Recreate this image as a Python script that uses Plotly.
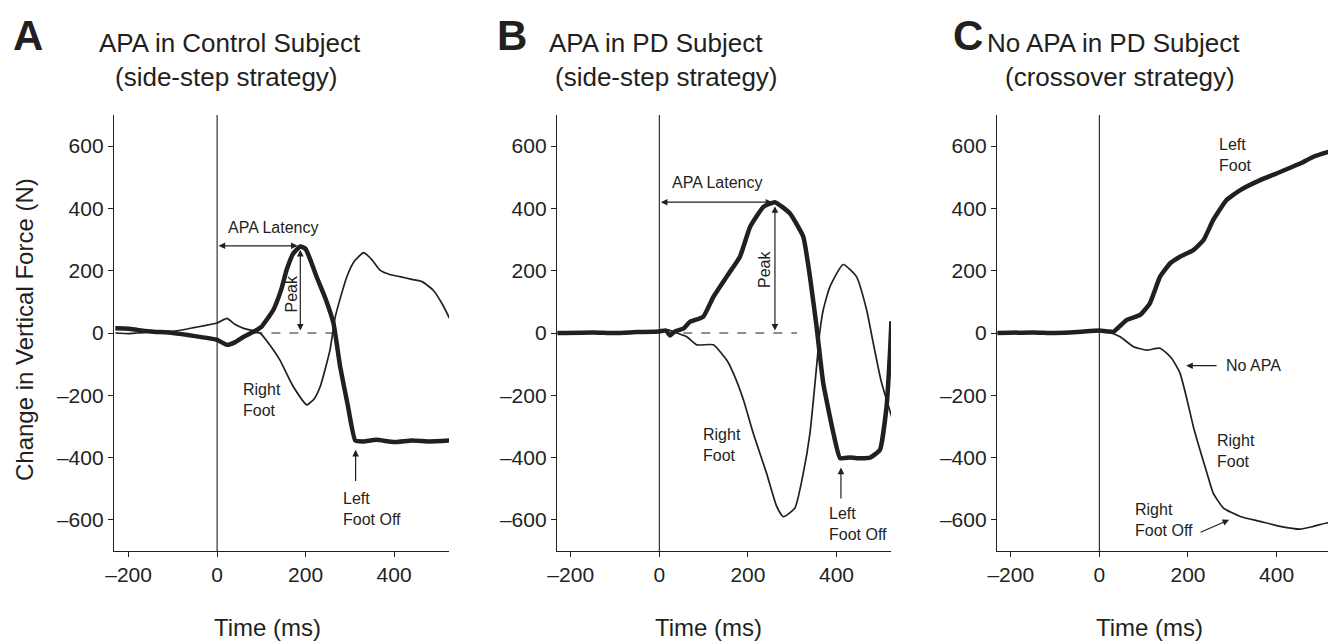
import plotly.graph_objects as go
from plotly.subplots import make_subplots

# ---- data (time in ms, force in N) ----
# Panel A: control subject, side-step
a_left_t = [-230, -200, -180, -150, -100, -50, 0, 22, 40, 60, 82, 100, 127, 145, 157, 172, 188, 200,
            212, 225, 245, 263, 278, 295, 312, 330, 360, 400, 440, 480, 527]
a_left_f = [15, 14, 10, 5, 0, -10, -22, -38, -30, -12, 4, 20, 74, 140, 202, 255, 278, 270,
            230, 180, 110, 31, -108, -230, -345, -348, -343, -350, -345, -348, -345]
a_right_t = [-230, -200, -180, -150, -100, -50, 0, 22, 40, 60, 82, 97, 120, 142, 172, 203, 220,
             233, 255, 267, 280, 293, 310, 331, 350, 368, 390, 413, 440, 463, 488, 510, 527]
a_right_f = [0, -2, 0, 3, 5, 18, 32, 47, 28, 15, 7, 0, -40, -87, -172, -231, -210,
             -172, -55, 52, 120, 180, 230, 258, 235, 202, 188, 181, 172, 165, 138, 90, 42]

# Panel B: PD subject, side-step
b_left_t = [-230, -150, -100, -50, 0, 15, 24, 35, 55, 69, 99, 122, 152, 182, 205, 235, 261,
            295, 325, 340, 355, 370, 393, 408, 430, 455, 476, 498, 513, 521, 524]
b_left_f = [0, 2, 0, 3, 5, 8, -8, 5, 15, 36, 52, 116, 181, 245, 341, 405, 420,
            384, 309, 181, 20, -161, -322, -402, -400, -402, -400, -375, -236, -55, 38]
b_right_t = [-230, -150, -100, -50, 0, 20, 40, 62, 84, 122, 152, 167, 190, 212, 242, 265, 280,
             306, 325, 340, 355, 362, 370, 385, 415, 445, 468, 483, 500, 513, 527]
b_right_f = [0, 2, 0, 3, 5, 10, 0, -12, -38, -38, -87, -129, -215, -322, -450, -557, -590,
             -562, -450, -322, -108, 0, 74, 148, 220, 181, 74, -33, -150, -215, -280]

# Panel C: PD subject, crossover (no APA)
c_left_t = [-230, -150, -100, -50, 0, 20, 32, 62, 92, 114, 137, 160, 182, 212, 235, 257, 287,
            318, 363, 408, 453, 483, 513, 525]
c_left_f = [0, 2, 0, 3, 8, 5, 4, 42, 58, 95, 181, 224, 245, 266, 298, 363, 427,
            459, 491, 517, 544, 566, 580, 585]
c_right_t = [-230, -150, -100, -50, 0, 20, 47, 77, 107, 137, 163, 182, 198, 212, 227, 243, 257,
             280, 318, 363, 408, 453, 483, 513, 525]
c_right_f = [0, 2, 0, 3, 5, 3, -12, -44, -55, -49, -81, -129, -215, -300, -375, -450, -514,
             -562, -589, -605, -621, -630, -621, -610, -610]

panels = [(a_left_t, a_left_f, a_right_t, a_right_f),
          (b_left_t, b_left_f, b_right_t, b_right_f),
          (c_left_t, c_left_f, c_right_t, c_right_f)]

x_ticks = [-200, 0, 200, 400]
x_tick_text = ["\u2013200", "0", "200", "400"]
y_ticks = [-600, -400, -200, 0, 200, 400, 600]
y_tick_text = ["\u2013600", "\u2013400", "\u2013200", "0", "200", "400", "600"]

INK = "#231f20"
FONT = "Liberation Sans, Arial, Helvetica, sans-serif"

W, H = 1328, 643
L, R, T, B = 114, 0, 115, 92
pw, ph = W - L - R, H - T - B


def px(xp):
    return (xp - L) / pw


def py(yp):
    return (H - B - yp) / ph


fig = make_subplots(rows=1, cols=3)

for i, (lt, lf, rt, rf) in enumerate(panels, start=1):
    fig.add_trace(go.Scatter(x=rt, y=rf, mode="lines",
                             line=dict(color=INK, width=1.7, shape="spline", smoothing=0.5),
                             showlegend=False, hoverinfo="skip"), row=1, col=i)
    fig.add_trace(go.Scatter(x=lt, y=lf, mode="lines",
                             line=dict(color=INK, width=4.5, shape="spline", smoothing=0.4),
                             showlegend=False, hoverinfo="skip"), row=1, col=i)

# panel extents in pixels (left, right) and x ranges
extents = [(114, 449), (557, 891), (997, 1328)]
x_ranges = [[-233, 524], [-231, 523], [-231, 516]]
for i, ((x0, x1), xr) in enumerate(zip(extents, x_ranges), start=1):
    xa = "xaxis" if i == 1 else f"xaxis{i}"
    fig.layout[xa].domain = [px(x0), px(x1)]
    fig.update_xaxes(range=xr, tickvals=x_ticks, ticktext=x_tick_text,
                     showline=True, linecolor=INK, linewidth=1.4, ticks="outside",
                     ticklen=5, tickcolor=INK, showgrid=False, zeroline=False,
                     tickfont=dict(size=21, color=INK), row=1, col=i)
    fig.update_yaxes(range=[-700, 700], tickvals=y_ticks, ticktext=y_tick_text,
                     showline=True, linecolor=INK, linewidth=1.4, ticks="outside",
                     ticklen=5, tickcolor=INK, showgrid=False, zeroline=False,
                     tickfont=dict(size=21, color=INK), row=1, col=i)
    # vertical line at movement onset
    fig.add_shape(type="line", x0=0, x1=0, y0=-700, y1=700, line=dict(color=INK, width=1.1),
                  row=1, col=i)

# dashed baselines
fig.add_shape(type="line", x0=82, x1=264, y0=0, y1=0, line=dict(color=INK, width=1, dash="dash"),
              row=1, col=1)
fig.add_shape(type="line", x0=54, x1=311, y0=0, y1=0, line=dict(color=INK, width=1, dash="dash"),
              row=1, col=2)

ann = []


def txt(xref, yref, x, y, text, size=16, xanchor="left", **kw):
    ann.append(dict(xref=xref, yref=yref, x=x, y=y, text=text, showarrow=False,
                    xanchor=xanchor, align="left", font=dict(size=size, color=INK), **kw))


def arrow(xref, yref, x, y, ax, ay, both=False):
    ann.append(dict(xref=xref, yref=yref, axref=xref, ayref=yref, x=x, y=y, ax=ax, ay=ay,
                    text="", showarrow=True, arrowhead=2, arrowsize=1.1, arrowwidth=1.2,
                    arrowcolor=INK, arrowside="end+start" if both else "end",
                    startarrowhead=2, startarrowsize=1.1))


# Panel A annotations
arrow("x", "y", 182, 280, 0, 280, both=True)
txt("x", "y", 127, 338, "APA Latency", xanchor="center")
arrow("x", "y", 188, 8, 188, 272, both=True)
txt("x", "y", 168, 125, "Peak", xanchor="center", textangle=-90)
txt("x", "y", 54, -215, "Right<br>Foot")
arrow("x", "y", 313, -375, 313, -480)
txt("x", "y", 281, -565, "Left<br>Foot Off")

# Panel B annotations
arrow("x2", "y2", 255, 420, 0, 420, both=True)
txt("x2", "y2", 131, 482, "APA Latency", xanchor="center")
arrow("x2", "y2", 261, 8, 261, 412, both=True)
txt("x2", "y2", 236, 205, "Peak", xanchor="center", textangle=-90)
txt("x2", "y2", 95, -360, "Right<br>Foot")
arrow("x2", "y2", 410, -432, 410, -536)
txt("x2", "y2", 379, -612, "Left<br>Foot Off")

# Panel C annotations
txt("x3", "y3", 266, 572, "Left<br>Foot")
arrow("x3", "y3", 196, -105, 268, -105)
txt("x3", "y3", 282, -105, "No APA")
txt("x3", "y3", 262, -378, "Right<br>Foot")
txt("x3", "y3", 75, -600, "Right<br>Foot Off")
arrow("x3", "y3", 293, -600, 225, -642)

# panel letters and titles
for letter, xl in [("A", 28), ("B", 512), ("C", 968)]:
    ann.append(dict(xref="paper", yref="paper", x=px(xl), y=py(35), text=f"<b>{letter}</b>",
                    showarrow=False, xanchor="center", yanchor="middle",
                    font=dict(size=42, color=INK, family="Liberation Sans, Arial")))

titles = [("APA in Control Subject", 97, "(side-step strategy)", 113),
          ("APA in PD Subject", 547, "(side-step strategy)", 553),
          ("No APA in PD Subject", 985, "(crossover strategy)", 1003)]
for l1, x1, l2, x2 in titles:
    ann.append(dict(xref="paper", yref="paper", x=px(x1), y=py(43), text=l1, showarrow=False,
                    xanchor="left", yanchor="middle", font=dict(size=26, color=INK)))
    ann.append(dict(xref="paper", yref="paper", x=px(x2), y=py(77), text=l2, showarrow=False,
                    xanchor="left", yanchor="middle", font=dict(size=26, color=INK)))

for xc in [267, 708, 1149]:
    ann.append(dict(xref="paper", yref="paper", x=px(xc), y=py(643), text="Time (ms)",
                    showarrow=False, xanchor="center", yanchor="bottom",
                    font=dict(size=24, color=INK)))

ann.append(dict(xref="paper", yref="paper", x=px(24), y=py(330),
                text="Change in Vertical Force (N)", showarrow=False, textangle=-90,
                xanchor="center", yanchor="middle", font=dict(size=24, color=INK)))

fig.update_layout(
    width=W, height=H,
    margin=dict(l=L, r=R, t=T, b=B),
    plot_bgcolor="white", paper_bgcolor="white",
    font=dict(family=FONT, color=INK),
    annotations=ann,
    showlegend=False,
)

# drop the default page margin so the figure sits at the window's corner
fig.write_html("out.html", config={"displayModeBar": False},
               post_script="document.body.style.margin='0';")
